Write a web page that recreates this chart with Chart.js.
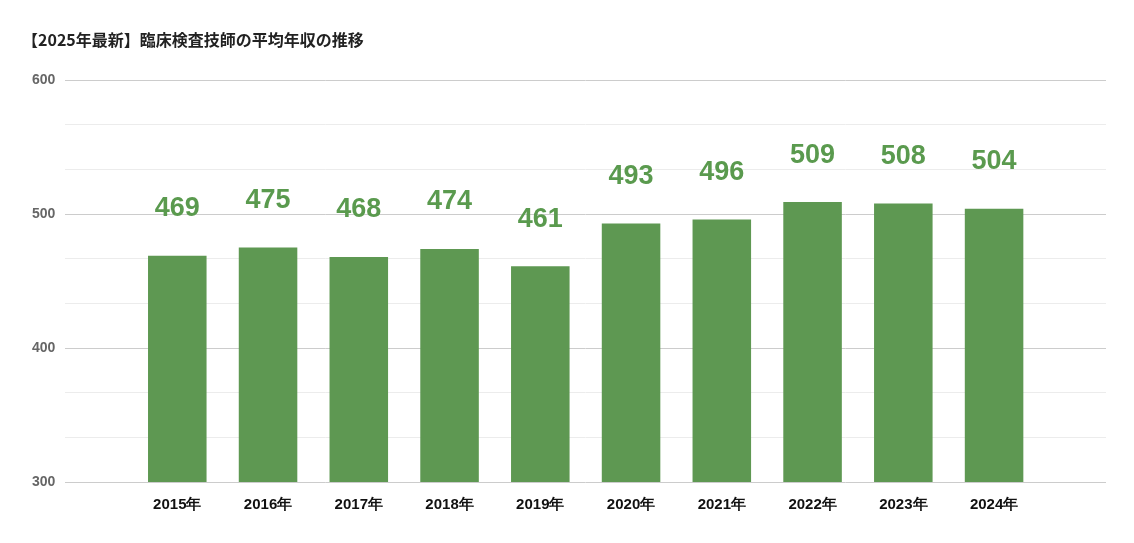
<!DOCTYPE html>
<html><head><meta charset="utf-8">
<script src="https://cdn.jsdelivr.net/npm/chart.js@4/dist/chart.umd.min.js"></script>
<style>html,body{margin:0;padding:0;background:#fff}#w{width:1134px;height:543px;position:relative}</style>
</head><body><div id="w"><canvas id="c"></canvas></div>
<script>
const categories=["2015年","2016年","2017年","2018年","2019年","2020年","2021年","2022年","2023年","2024年"];
const values=[469,475,468,474,461,493,496,509,508,504];
const yTicks=[300,400,500,600];
const title="【2025年最新】臨床検査技師の平均年収の推移";
const labelPlugin={id:'lbl',afterDatasetsDraw(ch){const ctx=ch.ctx;const m=ch.getDatasetMeta(0);ctx.save();ctx.font="bold 27px 'Liberation Sans', Arial";ctx.fillStyle="#5a9a4e";ctx.textAlign="center";ctx.textBaseline="middle";m.data.forEach((b,i)=>{ctx.fillText(values[i],b.x,b.y-47);});ctx.restore();}};
new Chart(document.getElementById('c'),{type:'bar',
data:{datasets:[{data:values.map((v,i)=>({x:i,y:v})),backgroundColor:"#5e9852",barPercentage:0.645,categoryPercentage:1}]},
options:{responsive:true,maintainAspectRatio:false,animation:false,
layout:{padding:{left:22,right:28,top:10,bottom:23}},
plugins:{legend:{display:false},tooltip:{enabled:false},
title:{display:true,text:title,align:'start',color:'#222',font:{family:"'Noto Sans CJK JP'",size:16,weight:'bold'},padding:{top:20,bottom:31}}},
scales:{x:{type:'linear',min:-0.66,max:9.66,grid:{display:false},border:{display:false},afterBuildTicks(a){a.ticks=categories.map((c,i)=>({value:i}));},ticks:{color:'#111',font:{family:"'Liberation Sans', Arial",size:15,weight:'bold'},padding:6,callback:(v)=>categories[v]}},
y:{min:300,max:600,border:{display:false},afterBuildTicks(a){const t=[];for(let i=0;i<=9;i++)t.push({value:300+i*100/3});a.ticks=t;},
grid:{color:(c)=>{const v=c.tick?c.tick.value:0;return Math.abs(v-Math.round(v/100)*100)<0.01?'#cccccc':'#ececec';},drawTicks:false},
ticks:{padding:10,color:'#666',font:{family:"'Liberation Sans', Arial",size:14,weight:'bold'},callback:(v)=>{const r=Math.round(v);return (Math.abs(v-r)<0.01&&yTicks.includes(r))?r:'';}}}}},
plugins:[labelPlugin]});
</script></body></html>
